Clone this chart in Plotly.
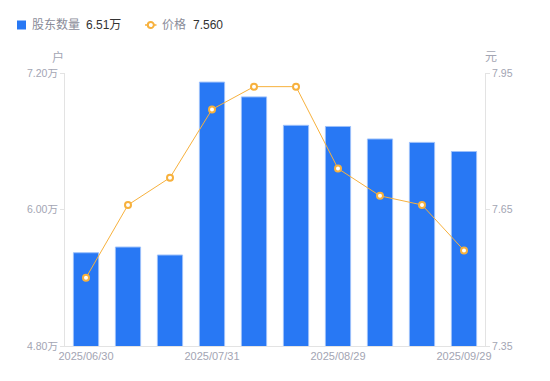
import plotly.graph_objects as go

dates = ["2025/06/30", "2025/07/10", "2025/07/18", "2025/07/31", "2025/08/08",
         "2025/08/20", "2025/08/29", "2025/09/10", "2025/09/19", "2025/09/29"]
holders = [5.62, 5.67, 5.60, 7.12, 6.99, 6.74, 6.73, 6.62, 6.59, 6.51]  # 万户
price = [7.50, 7.66, 7.72, 7.87, 7.92, 7.92, 7.74, 7.68, 7.66, 7.56]
x_tick_idx = [0, 3, 6, 9]
left_ticks = [4.8, 6.0, 7.2]
left_labels = ["4.80万", "6.00万", "7.20万"]
right_ticks = [7.35, 7.65, 7.95]
right_labels = ["7.35", "7.65", "7.95"]
legend_names = ["股东数量", "价格"]
legend_values = ["6.51万", "7.560"]

FONT = "Liberation Sans, Noto Sans CJK SC, sans-serif"
AX = "#a3a5b3"
LINE = "#e3e3e3"
BLUE = "#2878f4"
ORANGE = "#f7b13d"

W, H = 550, 381
L, R, T, B = 65, 65, 73, 35
PW, PH = W - L - R, H - T - B


def px(x):
    return (x - L) / PW


def py(y):
    return (H - B - y) / PH


fig = go.Figure()
fig.add_trace(go.Bar(
    x=dates, y=holders, width=0.6,
    marker=dict(color=BLUE, line=dict(color="#9cc0fa", width=1)),
    name=legend_names[0], yaxis="y"))
fig.add_trace(go.Scatter(
    x=dates, y=price, mode="lines+markers",
    line=dict(color=ORANGE, width=1),
    marker=dict(symbol="circle", size=6, color="white", line=dict(color=ORANGE, width=2)),
    name=legend_names[1], yaxis="y2"))

shapes = [
    dict(type="rect", xref="paper", yref="paper", x0=px(17), x1=px(26), y0=py(29.5), y1=py(20.5),
         fillcolor=BLUE, line=dict(width=0)),
    dict(type="line", xref="paper", yref="paper", x0=px(145), x1=px(156.5), y0=py(25), y1=py(25),
         line=dict(color=ORANGE, width=1.5)),
    dict(type="circle", xref="paper", yref="paper", x0=px(147.8), x1=px(153.8), y0=py(28), y1=py(22),
         fillcolor="white", line=dict(color=ORANGE, width=2)),
]

def ann(text, x, y, color, size=12, xanchor="left"):
    return dict(text=text, xref="paper", yref="paper", x=px(x), y=py(y), xanchor=xanchor,
                yanchor="middle", showarrow=False, font=dict(size=size, color=color))

annotations = [
    ann(legend_names[0], 30, 25, "#8a8c99"),
    ann(legend_values[0], 84, 25, "#333333"),
    ann(legend_names[1], 160, 25, "#8a8c99"),
    ann(legend_values[1], 191, 25, "#333333"),
    ann("户", 58, 57, AX, xanchor="center"),
    ann("元", 490.5, 57, AX, xanchor="center"),
]

fig.update_layout(
    width=W, height=H,
    margin=dict(l=L, r=R, t=T, b=B, autoexpand=False),
    plot_bgcolor="white", paper_bgcolor="white",
    font=dict(family=FONT, size=11, color=AX),
    showlegend=False,
    hovermode=False,
    xaxis=dict(type="category", range=[-0.5, len(dates) - 0.5], tickmode="array",
               tickvals=[dates[i] for i in x_tick_idx],
               ticktext=[dates[i] for i in x_tick_idx],
               showline=True, linecolor=LINE, linewidth=1, showgrid=False,
               ticks="", tickfont=dict(size=11, color=AX), zeroline=False),
    yaxis=dict(range=[4.8, 7.2], tickmode="array", tickvals=left_ticks, ticktext=left_labels,
               showline=True, linecolor=LINE, linewidth=1, showgrid=False, zeroline=False,
               ticks="outside", ticklen=4, tickcolor=LINE, tickfont=dict(size=10.5, color=AX)),
    yaxis2=dict(range=[7.35, 7.95], overlaying="y", side="right", tickmode="array",
                tickvals=right_ticks, ticktext=right_labels,
                showline=True, linecolor=LINE, linewidth=1, showgrid=False, zeroline=False,
                ticks="outside", ticklen=4, tickcolor=LINE, tickfont=dict(size=10.5, color=AX)),
    shapes=shapes,
    annotations=annotations,
)

fig.write_html("out.html", config={"displayModeBar": False},
               post_script="document.body.style.margin='0';document.body.style.padding='0';")
